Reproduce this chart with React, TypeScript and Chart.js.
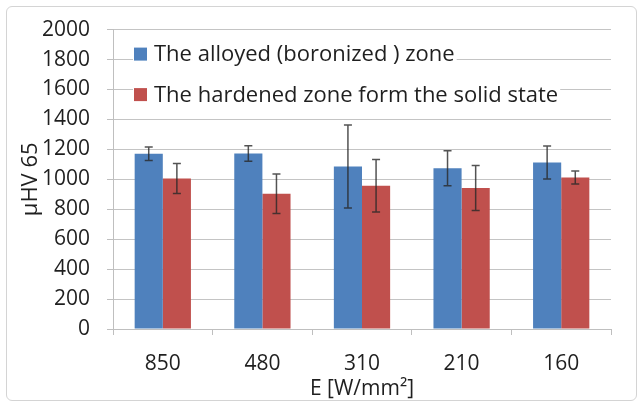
import React, { useEffect, useRef } from "react";
import { Chart, registerables } from "chart.js";

Chart.register(...registerables);

const categories = ["850", "480", "310", "210", "160"];
const seriesLabels = [
  "The alloyed (boronized ) zone",
  "The hardened zone form the solid state",
];
const alloyedValues = [1171, 1172, 1085, 1074, 1112];
const alloyedErrors = [45, 52, 277, 117, 110];
const hardenedValues = [1005, 904, 957, 942, 1012];
const hardenedErrors = [100, 132, 175, 151, 44];
const yMin = 0;
const yMax = 2000;
const yStep = 200;
const xTitle = "E [W/mm²]";
const yTitle = "µHV 65";

const FONT = "'Open Sans', sans-serif";
const TEXT = "#1f1f1f";

const errorBarPlugin = {
  id: "errorBars",
  afterDatasetsDraw(chart: any) {
    const ctx = chart.ctx;
    const yScale = chart.scales.y;
    const errs = [alloyedErrors, hardenedErrors];
    chart.data.datasets.forEach((ds: any, i: number) => {
      const meta = chart.getDatasetMeta(i);
      meta.data.forEach((bar: any, j: number) => {
        const v = ds.data[j];
        const e = errs[i][j];
        const yTop = yScale.getPixelForValue(v + e);
        const yBot = yScale.getPixelForValue(v - e);
        const x = bar.x;
        ctx.save();
        ctx.strokeStyle = "rgba(40,40,40,0.8)";
        ctx.lineWidth = 1.5;
        ctx.beginPath();
        ctx.moveTo(x, yTop);
        ctx.lineTo(x, yBot);
        ctx.moveTo(x - 4, yTop);
        ctx.lineTo(x + 4, yTop);
        ctx.moveTo(x - 4, yBot);
        ctx.lineTo(x + 4, yBot);
        ctx.stroke();
        ctx.restore();
      });
    });
  },
};

const legendPlugin = {
  id: "insideLegend",
  afterDraw(chart: any) {
    const ctx = chart.ctx;
    const area = chart.chartArea;
    const rows = [24.5, 65];
    ctx.save();
    ctx.font = `22px ${FONT}`;
    ctx.textBaseline = "middle";
    chart.data.datasets.forEach((ds: any, i: number) => {
      const cy = area.top + rows[i];
      const sx = area.left + 21;
      const text = ds.label as string;
      const w = ctx.measureText(text).width;
      ctx.fillStyle = "#ffffff";
      ctx.fillRect(sx - 1, cy - 13, 13 + 8 + w + 2, 26);
      ctx.fillStyle = ds.backgroundColor;
      ctx.fillRect(sx, cy - 6.5, 13, 13);
      ctx.fillStyle = TEXT;
      ctx.fillText(text, sx + 20, cy + 1);
    });
    ctx.restore();
  },
};

export default function App() {
  const canvasRef = useRef<HTMLCanvasElement | null>(null);

  useEffect(() => {
    if (!canvasRef.current) return;
    const chart = new Chart(canvasRef.current, {
      type: "bar",
      data: {
        labels: categories,
        datasets: [
          {
            label: seriesLabels[0],
            data: alloyedValues,
            backgroundColor: "#4F81BD",
            borderWidth: 0,
          },
          {
            label: seriesLabels[1],
            data: hardenedValues,
            backgroundColor: "#C0504D",
            borderWidth: 0,
          },
        ],
      },
      options: {
        animation: false,
        responsive: false,
        maintainAspectRatio: false,
        datasets: {
          bar: { categoryPercentage: 0.565, barPercentage: 1.0 },
        },
        layout: { padding: { left: 8, right: 32, top: 24, bottom: 3 } },
        plugins: {
          legend: { display: false },
          tooltip: { enabled: false },
        },
        scales: {
          x: {
            grid: {
              display: true,
              offset: true,
              drawOnChartArea: false,
              drawTicks: true,
              tickLength: 6,
              color: "#bfbfbf",
            },
            border: { display: true, color: "#bfbfbf", width: 1 },
            ticks: {
              color: TEXT,
              font: { family: FONT, size: 21 },
              padding: 16,
            },
            title: {
              display: true,
              text: xTitle,
              color: TEXT,
              font: { family: FONT, size: 21 },
              padding: { top: 0, bottom: 0 },
            },
            afterFit: (scale: any) => {
              scale.height = 73;
            },
          },
          y: {
            min: yMin,
            max: yMax,
            ticks: {
              stepSize: yStep,
              color: TEXT,
              font: { family: FONT, size: 21 },
              padding: 17,
              callback: (v: any) => String(v),
            },
            grid: {
              color: "#c4c4c4",
              lineWidth: 1,
              tickLength: 6,
              tickColor: "#bfbfbf",
              tickBorderDash: [],
            },
            border: { display: true, color: "#bfbfbf", width: 1 },
            title: {
              display: true,
              text: yTitle,
              color: TEXT,
              font: { family: FONT, size: 22 },
              padding: { top: 10, bottom: 0 },
            },
            afterFit: (scale: any) => {
              scale.width = 105;
            },
          },
        },
      },
      plugins: [errorBarPlugin, legendPlugin],
    });
    const y: any = chart.options.scales!.y;
    y.grid.borderDash = [3, 3];
    chart.update();
    return () => chart.destroy();
  }, []);

  return (
    <div
      style={{
        position: "fixed",
        left: 0,
        top: 0,
        width: 643,
        height: 405,
        background: "#ffffff",
      }}
    >
      <div
        style={{
          position: "absolute",
          left: 6,
          top: 6,
          width: 631,
          height: 395,
          border: "1px solid #d4d4d4",
          borderRadius: 6,
          boxSizing: "border-box",
        }}
      />
      <canvas
        ref={canvasRef}
        width={643}
        height={405}
        style={{ position: "absolute", left: 0, top: 0, width: 643, height: 405 }}
      />
    </div>
  );
}
